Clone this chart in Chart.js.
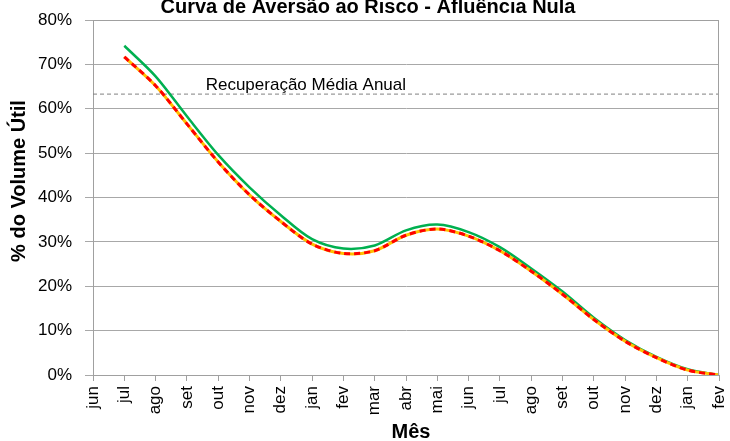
<!DOCTYPE html>
<html>
<head>
<meta charset="utf-8">
<script src="https://cdn.jsdelivr.net/npm/chart.js@4.4.0/dist/chart.umd.min.js"></script>
<style>
  html, body { margin: 0; padding: 0; background: #fff; }
  #wrap { width: 730px; height: 441px; }
</style>
</head>
<body>
<div id="wrap"><canvas id="chart" width="730" height="441"></canvas></div>
<script>
// categories (months)
const months = ['jun', 'jul', 'ago', 'set', 'out', 'nov', 'dez', 'jan', 'fev', 'mar', 'abr',
                'mai', 'jun', 'jul', 'ago', 'set', 'out', 'nov', 'dez', 'jan', 'fev'];
// upper curve (green)
const curvaSuperior = [null, 74.2, 67.3, 58.3, 49.6, 42.3, 36.0, 30.6, 28.5, 29.2, 32.6,
                       33.9, 32.2, 28.8, 24.0, 18.8, 12.9, 7.9, 4.1, 1.3, 0];
// risk aversion curve (red dashed over yellow)
const curvaAversao = [null, 71.7, 65.2, 56.6, 48.0, 40.6, 34.6, 29.5, 27.4, 28.0, 31.5,
                      32.9, 31.3, 28.0, 23.4, 18.2, 12.5, 7.6, 3.9, 1.1, 0];
// average annual recovery
const recuperacaoMedia = 63.3;
const yTicks = [0, 10, 20, 30, 40, 50, 60, 70, 80];

const FONT = "'Liberation Sans', Arial, sans-serif";

// Titles and reference-line label
const textPlugin = {
    id: 'textPlugin',
    afterDraw(chart) {
        const ctx = chart.ctx;
        const x = chart.scales.x;
        const y = chart.scales.y;
        const area = chart.chartArea;
        ctx.save();
        ctx.fillStyle = '#000';
        ctx.font = 'bold 20px ' + FONT;
        ctx.textAlign = 'center';
        ctx.textBaseline = 'alphabetic';
        ctx.fillText('Curva de Aversão ao Risco - Afluência Nula', 368, 13);

        ctx.textBaseline = 'middle';
        ctx.fillText('Mês', (area.left + area.right) / 2 + 5, 432);

        ctx.save();
        ctx.translate(19, 181);
        ctx.rotate(-Math.PI / 2);
        ctx.fillText('% do Volume Útil', 0, 0);
        ctx.restore();

        ctx.font = '17px ' + FONT;
        ctx.textAlign = 'left';
        ctx.textBaseline = 'alphabetic';
        ctx.fillText('Recuperação Média Anual', x.getPixelForValue(3.6), y.getPixelForValue(recuperacaoMedia) - 4);

        // plot frame top / right
        ctx.strokeStyle = '#a0a0a0';
        ctx.lineWidth = 1;
        ctx.beginPath();
        ctx.moveTo(area.left, area.top + 0.5);
        ctx.lineTo(area.right - 0.5, area.top + 0.5);
        ctx.lineTo(area.right - 0.5, area.bottom);
        ctx.stroke();
        ctx.restore();
    }
};

new Chart(document.getElementById('chart'), {
    type: 'line',
    data: {
        labels: months,
        datasets: [
            {
                label: 'Aversão',
                data: curvaAversao,
                borderColor: '#ff0000',
                borderWidth: 3,
                borderDash: [6, 4],
                pointRadius: 0,
                tension: 0.3,
                fill: false
            },
            {
                label: 'Aversão base',
                data: curvaAversao,
                borderColor: '#ffc000',
                borderWidth: 3,
                pointRadius: 0,
                tension: 0.3,
                fill: false
            },
            {
                label: 'Superior',
                data: curvaSuperior,
                borderColor: '#00b050',
                borderWidth: 2.5,
                pointRadius: 0,
                tension: 0.3,
                fill: false
            },
            {
                label: 'Recuperação Média Anual',
                data: months.map(() => recuperacaoMedia),
                borderColor: '#808080',
                borderWidth: 1,
                borderDash: [4, 3],
                pointRadius: 0,
                tension: 0,
                fill: false
            }
        ]
    },
    options: {
        responsive: false,
        animation: false,
        layout: { padding: { left: 0, top: 20, right: 11, bottom: 0 } },
        plugins: {
            legend: { display: false },
            tooltip: { enabled: false }
        },
        scales: {
            x: {
                offset: false,
                grid: {
                    display: true,
                    drawOnChartArea: false,
                    color: '#a0a0a0',
                    tickLength: 6
                },
                border: { color: '#a0a0a0', width: 1 },
                ticks: {
                    color: '#000',
                    font: { size: 17, family: FONT },
                    maxRotation: 90,
                    minRotation: 90,
                    autoSkip: false,
                    padding: 5
                },
                afterFit(scale) {
                    scale.height = 66;
                    scale.paddingLeft = 0;
                    scale.paddingRight = 0;
                }
            },
            y: {
                min: 0,
                max: 80,
                afterBuildTicks(scale) { scale.ticks = yTicks.map(v => ({ value: v })); },
                grid: {
                    color: '#a8a8a8',
                    tickLength: 8
                },
                border: { color: '#a0a0a0', width: 1 },
                ticks: {
                    color: '#000',
                    font: { size: 17, family: FONT },
                    padding: 13,
                    callback: v => v + '%'
                },
                afterFit(scale) {
                    scale.width = 93;
                    scale.paddingTop = 0;
                    scale.paddingBottom = 0;
                }
            }
        }
    },
    plugins: [textPlugin]
});
</script>
</body>
</html>
